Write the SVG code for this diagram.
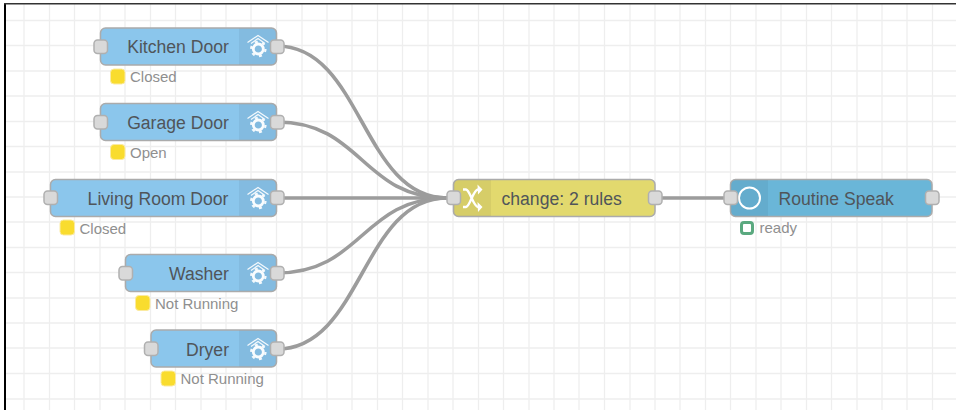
<svg xmlns="http://www.w3.org/2000/svg" xmlns:xlink="http://www.w3.org/1999/xlink" width="956" height="410" viewBox="0 0 956 410">
<style>
text{font-family:"Liberation Sans",Arial,sans-serif}
.l{font-size:17.6px;fill:#50555a}
.s{font-size:15px;fill:#8f8f8f}
.b{stroke:#ababab;stroke-width:1.5}
.hd{fill:#000;fill-opacity:.05}
.p{fill:#d9d9d9;stroke:#b0b0b0;stroke-width:1.5}
.w{fill:none;stroke:#9c9c9c;stroke-width:3.6}
.dot{fill:#f9dc2e;stroke:#fbeaa0;stroke-width:1}
.g{stroke:#eee;stroke-width:1.3}
.ic{fill:none;stroke:#fff;stroke-width:1.300}
</style>
<defs>
<g id="home">
<path class="ic" d="M-10 -3.500 L0.500 -10.500 L11 -3.500 M-6.500 -2.500 L0.500 -7.500 L7.500 -2.500" stroke-opacity=".9"/>
<circle cx="0.800" cy="3" r="5" fill="none" stroke="#fff" stroke-width="2.800" stroke-opacity=".95"/>
<circle cx="0.800" cy="3" r="7.200" fill="none" stroke="#fff" stroke-width="2.200" stroke-dasharray="3 4.540" stroke-opacity=".9"/>
</g>
</defs>
<rect width="956" height="410" fill="#fff"/>
<g id="grid">
<path class="g" d="M24 4V410M49.500 4V410M74.500 4V410M100 4V410M125 4V410M150.500 4V410M175.500 4V410M201 4V410M226 4V410M251 4V410M276.500 4V410M302 4V410M327 4V410M352 4V410M377.500 4V410M402.500 4V410M428 4V410M453 4V410M478.500 4V410M503.500 4V410M529 4V410M554 4V410M579 4V410M604.500 4V410M630 4V410M655 4V410M680 4V410M705.500 4V410M730.500 4V410M756 4V410M781 4V410M806.500 4V410M831.500 4V410M857 4V410M882 4V410M907 4V410M932.500 4V410"/>
<path class="g" d="M5 20.500H956M5 45.500H956M5 71H956M5 96H956M5 121.500H956M5 146.500H956M5 172H956M5 197H956M5 222H956M5 247.500H956M5 272.500H956M5 298H956M5 323H956M5 348H956M5 373.500H956M5 399H956"/>
</g>
<path d="M5 4V410" stroke="#000" stroke-width="2" fill="none"/>
<path d="M4 3.700H956" stroke="#333" stroke-width="1.400" fill="none"/>
<g id="connectors">
<path class="w" d="M277 46C362 46 362 198 447 198"/>
<path class="w" d="M277 122C362 122 362 198 447 198"/>
<path class="w" d="M277 198H447"/>
<path class="w" d="M277 273C362 273 362 198 447 198"/>
<path class="w" d="M277 349C362 349 362 198 447 198"/>
<path class="w" d="M655 198H730"/>
</g>
<g id="kitchen">
<rect class="b" x="100.500" y="28" width="176" height="37" rx="5" fill="#8bc6ec"/>
<path class="hd" d="M239 28.500H271.500A4.500 4.500 0 0 1 276 33V60A4.500 4.500 0 0 1 271.500 64.500H239Z"/>
<use xlink:href="#home" href="#home" x="257.500" y="46"/>
<rect class="p" x="94" y="40" width="13.500" height="13.500" rx="3.500"/>
<rect class="p" x="270.500" y="40" width="13.500" height="13.500" rx="3.500"/>
<text class="l" x="178" y="52.500" text-anchor="middle">Kitchen Door</text>
<rect class="dot" x="110.500" y="69" width="14.500" height="15" rx="3.500"/>
<text class="s" x="130" y="82">Closed</text>
</g>
<g id="garage">
<rect class="b" x="100.500" y="103.500" width="176" height="37" rx="5" fill="#8bc6ec"/>
<path class="hd" d="M239 104H271.500A4.500 4.500 0 0 1 276 108.500V135.500A4.500 4.500 0 0 1 271.500 140H239Z"/>
<use xlink:href="#home" href="#home" x="257.500" y="122"/>
<rect class="p" x="94" y="115.500" width="13.500" height="13.500" rx="3.500"/>
<rect class="p" x="270.500" y="115.500" width="13.500" height="13.500" rx="3.500"/>
<text class="l" x="178" y="128.500" text-anchor="middle">Garage Door</text>
<rect class="dot" x="110.500" y="144.500" width="14.500" height="15" rx="3.500"/>
<text class="s" x="130" y="157.500">Open</text>
</g>
<g id="living">
<rect class="b" x="50.500" y="179.500" width="226" height="37" rx="5" fill="#8bc6ec"/>
<path class="hd" d="M239 180H271.500A4.500 4.500 0 0 1 276 184.500V211.500A4.500 4.500 0 0 1 271.500 216H239Z"/>
<use xlink:href="#home" href="#home" x="257.500" y="198"/>
<rect class="p" x="44" y="191" width="13.500" height="13.500" rx="3.500"/>
<rect class="p" x="270.500" y="191" width="13.500" height="13.500" rx="3.500"/>
<text class="l" x="158" y="204.500" text-anchor="middle">Living Room Door</text>
<rect class="dot" x="60" y="220" width="14.500" height="15" rx="3.500"/>
<text class="s" x="79.500" y="233.500">Closed</text>
</g>
<g id="washer">
<rect class="b" x="125.500" y="254.500" width="151" height="37" rx="5" fill="#8bc6ec"/>
<path class="hd" d="M239 255H271.500A4.500 4.500 0 0 1 276 259.500V286.500A4.500 4.500 0 0 1 271.500 291H239Z"/>
<use xlink:href="#home" href="#home" x="257.500" y="273"/>
<rect class="p" x="119" y="266.500" width="13.500" height="13.500" rx="3.500"/>
<rect class="p" x="270.500" y="266.500" width="13.500" height="13.500" rx="3.500"/>
<text class="l" x="199" y="279.500" text-anchor="middle">Washer</text>
<rect class="dot" x="135.500" y="295.500" width="14.500" height="15" rx="3.500"/>
<text class="s" x="155" y="308.500">Not Running</text>
</g>
<g id="dryer">
<rect class="b" x="151" y="330" width="125.500" height="37" rx="5" fill="#8bc6ec"/>
<path class="hd" d="M239 330.500H271.500A4.500 4.500 0 0 1 276 335V362A4.500 4.500 0 0 1 271.500 366.500H239Z"/>
<use xlink:href="#home" href="#home" x="257.500" y="349"/>
<rect class="p" x="144.500" y="342" width="13.500" height="13.500" rx="3.500"/>
<rect class="p" x="270.500" y="342" width="13.500" height="13.500" rx="3.500"/>
<text class="l" x="207.500" y="355.500" text-anchor="middle">Dryer</text>
<rect class="dot" x="161" y="371" width="14.500" height="15" rx="3.500"/>
<text class="s" x="180.500" y="384">Not Running</text>
</g>
<g id="change">
<rect class="b" x="453.500" y="179.500" width="201.500" height="37" rx="5" fill="#e2d96e"/>
<path class="hd" d="M491 180H458.500A4.500 4.500 0 0 0 454 184.500V211.500A4.500 4.500 0 0 0 458.500 216H491Z"/>
<path d="M463 189.500H466C470 190 473 206 478 207H479M463 207H466C470 206.500 473 190 478 189.500H479" fill="none" stroke="#fff" stroke-width="2.400"/>
<path d="M477.500 184.500L478 194.500L482.500 189.500ZM477.500 202L478 212L482.500 207Z" fill="#fff"/>
<rect class="p" x="447" y="191" width="13.500" height="13.500" rx="3.500"/>
<rect class="p" x="648.500" y="191" width="13.500" height="13.500" rx="3.500"/>
<text class="l" x="501.500" y="204.500">change: 2 rules</text>
</g>
<g id="routine">
<rect class="b" x="730.500" y="179.500" width="201.500" height="37" rx="5" fill="#6ab6d8"/>
<path class="hd" d="M768 180H735.500A4.500 4.500 0 0 0 731 184.500V211.500A4.500 4.500 0 0 0 735.500 216H768Z"/>
<circle cx="749.500" cy="198" r="10.500" fill="none" stroke="#fff" stroke-width="2"/>
<rect class="p" x="724" y="191" width="13.500" height="13.500" rx="3.500"/>
<rect class="p" x="925.500" y="191" width="13.500" height="13.500" rx="3.500"/>
<text class="l" x="778.500" y="204.500">Routine Speak</text>
<rect x="741.500" y="222.500" width="11" height="11" rx="2.500" fill="#fff" stroke="#5aa97f" stroke-width="3"/>
<text class="s" x="759.500" y="233">ready</text>
</g>
</svg>
